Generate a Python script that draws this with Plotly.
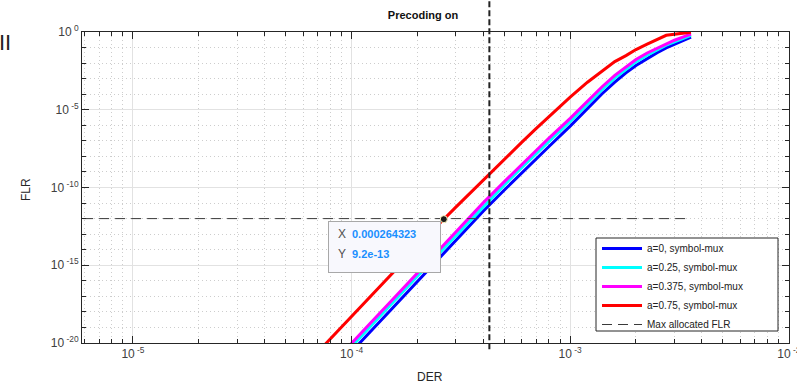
import numpy as np
import plotly.graph_objects as go

# ---------------- data ----------------
der = [0.6e-4, 0.8e-4, 1.0e-4, 1.2e-4, 1.5e-4, 2.0e-4, 2.5e-4, 3.0e-4, 4.0e-4,
       5.0e-4, 6.0e-4, 7.0e-4, 8.0e-4, 1.0e-3, 1.2e-3, 1.4e-3, 1.6e-3, 1.8e-3,
       2.0e-3, 2.25e-3, 2.5e-3, 2.75e-3, 3.0e-3, 3.3e-3, 3.57e-3]

# log10(FLR) for each series
log_flr_a0 = [-23.9, -22.0, -20.56, -19.37, -17.92, -16.04, -14.6, -13.4, -11.53,
              -10.16, -9.06, -8.14, -7.36, -6.05, -4.9, -3.97, -3.22, -2.62,
              -2.15, -1.7, -1.33, -1.02, -0.78, -0.53, -0.33]
log_flr_a025 = [-23.57, -21.67, -20.23, -19.04, -17.59, -15.71, -14.27, -13.07, -11.2,
                -9.83, -8.73, -7.81, -7.03, -5.75, -4.61, -3.70, -2.96, -2.38,
                -1.92, -1.49, -1.15, -0.85, -0.63, -0.40, -0.21]
log_flr_a0375 = [-23.36, -21.46, -20.02, -18.83, -17.38, -15.50, -14.06, -12.86, -10.99,
                 -9.62, -8.52, -7.60, -6.82, -5.55, -4.42, -3.52, -2.79, -2.22,
                 -1.77, -1.35, -1.03, -0.74, -0.53, -0.31, -0.13]
log_flr_a075 = [-21.59, -19.73, -18.29, -17.11, -15.66, -13.80, -12.38, -11.26, -9.51,
                -8.17, -7.10, -6.20, -5.43, -4.19, -3.23, -2.49, -1.90, -1.52,
                -1.13, -0.78, -0.48, -0.21, -0.14, -0.06, -0.01]

series_names = ["a=0, symbol-mux", "a=0.25, symbol-mux",
                "a=0.375, symbol-mux", "a=0.75, symbol-mux"]
series_colors = ["#0000ff", "#00ffff", "#ff00ff", "#ff0000"]

max_flr = 1e-12
max_flr_der = [5e-6, 3.57e-3]
max_flr_name = "Max allocated FLR"
der_limit = 4.27e-4

tip_x = 0.000264323
tip_y = 9.2e-13
tip_x_text = "0.000264323"
tip_y_text = "9.2e-13"

x_major = [1e-5, 1e-4, 1e-3, 1e-2]
x_major_text = ["10<sup> -5</sup>", "10<sup> -4</sup>", "10<sup> -3</sup>", "10<sup> -2</sup>"]
y_major = [1e-20, 1e-15, 1e-10, 1e-5, 1e0]
y_major_text = ["10<sup> -20</sup>", "10<sup> -15</sup>", "10<sup> -10</sup>",
                "10<sup> -5</sup>", "10<sup> 0</sup>"]

# ---------------- figure ----------------
W, H = 797, 386
ml, mr, mt, mb = 82, 8, 32, 43
pw, ph = W - ml - mr, H - mt - mb

font_fam = "Liberation Sans, Arial, Helvetica, sans-serif"
axcol = "#262626"

fig = go.Figure()

for logs, name, col in zip([log_flr_a0, log_flr_a025, log_flr_a0375, log_flr_a075],
                           series_names, series_colors):
    fig.add_trace(go.Scatter(x=der, y=10 ** np.array(logs), mode="lines", name=name,
                             line=dict(color=col, width=3), hoverinfo="skip"))

fig.add_trace(go.Scatter(x=max_flr_der, y=[max_flr, max_flr], mode="lines",
                         name=max_flr_name,
                         line=dict(color="#3a3a3a", width=1, dash="10px,6px"),
                         hoverinfo="skip"))

fig.add_trace(go.Scatter(x=[tip_x], y=[tip_y], mode="markers", showlegend=False,
                         marker=dict(color="#1a1a1a", size=7,
                                     line=dict(color="#fff8c0", width=1)),
                         hoverinfo="skip"))

x_minor = [m * 10.0 ** e for e in range(-6, -1) for m in range(2, 10)]
y_minor = [10.0 ** e for e in range(-20, 1) if e % 5 != 0]

common = dict(type="log", tickmode="array", automargin=False,
              ticks="inside", ticklen=7, tickwidth=1, tickcolor=axcol,
              showline=True, linecolor=axcol, linewidth=1, mirror="allticks",
              showgrid=True, gridcolor="#e2e2e2", gridwidth=1,
              zeroline=False, ticklabeloverflow="allow",
              tickfont=dict(family=font_fam, size=12, color="#404040"))
minor_common = dict(tickmode="array", ticks="inside", ticklen=4, tickwidth=1,
                    tickcolor=axcol, showgrid=True, gridcolor="#cdcdcd",
                    griddash="1px,3px", gridwidth=1)

fig.update_xaxes(range=[-5.233, -1.999], tickvals=x_major, ticktext=x_major_text,
                 minor=dict(tickvals=x_minor, **minor_common), **common)
fig.update_yaxes(range=[-20, 0], tickvals=y_major, ticktext=y_major_text,
                 minor=dict(tickvals=y_minor, **minor_common), **common)

fig.add_shape(type="line", xref="x", yref="paper", x0=der_limit, x1=der_limit,
              y0=-0.02, y1=1 + mt / ph,
              line=dict(color="#222222", width=2, dash="6px,3px"))

# legend frame (wider than plotly's auto-sized legend box)
leg_l, leg_r, leg_t, leg_b = 596, 778, 238, 331
fig.add_shape(type="rect", xref="paper", yref="paper",
              x0=(leg_l - ml) / pw, x1=(leg_r - ml) / pw,
              y0=(H - mb - leg_b) / ph, y1=(H - mb - leg_t) / ph,
              fillcolor="white", line=dict(color=axcol, width=1), layer="above")

ann = [
    dict(text="DER", xref="paper", yref="paper", x=(430 - ml) / pw,
         y=(H - mb - 377) / ph, showarrow=False, xanchor="center", yanchor="middle",
         font=dict(family=font_fam, size=12, color=axcol)),
    dict(text="FLR", xref="paper", yref="paper", x=(26 - ml) / pw,
         y=(H - mb - 190) / ph, showarrow=False, textangle=-90,
         xanchor="center", yanchor="middle",
         font=dict(family=font_fam, size=12, color=axcol)),
    dict(text="II", xref="paper", yref="paper", x=(5 - ml) / pw,
         y=(H - mb - 42) / ph, showarrow=False, xanchor="center", yanchor="middle",
         font=dict(family=font_fam, size=22, color="#222222")),
    # datatip box
    dict(text=" ", xref="x", yref="y", x=np.log10(tip_x), y=np.log10(tip_y),
         showarrow=False, xanchor="right", yanchor="top", xshift=-3, yshift=-2,
         width=111, height=50, borderpad=0, bgcolor="#f8f8fd",
         bordercolor="#a8a8a8", borderwidth=1,
         font=dict(family=font_fam, size=12)),
]
for lab, val, dy in [("X", tip_x_text, -15), ("Y", tip_y_text, -35)]:
    ann.append(dict(text=lab, xref="x", yref="y", x=np.log10(tip_x), y=np.log10(tip_y),
                    showarrow=False, xanchor="left", yanchor="middle",
                    xshift=-108, yshift=dy,
                    font=dict(family=font_fam, size=12, color="#505050")))
    ann.append(dict(text="<b>%s</b>" % val, xref="x", yref="y", x=np.log10(tip_x),
                    y=np.log10(tip_y), showarrow=False, xanchor="left", yanchor="middle",
                    xshift=-94, yshift=dy,
                    font=dict(family=font_fam, size=11, color="#1a8fff")))

fig.update_layout(
    width=W, height=H,
    margin=dict(l=ml, r=mr, t=mt, b=mb, autoexpand=False),
    paper_bgcolor="white", plot_bgcolor="white",
    showlegend=True,
    legend=dict(x=(leg_l + 1 - ml) / pw, y=(H - mb - 234) / ph,
                xanchor="left", yanchor="top",
                bgcolor="rgba(0,0,0,0)", borderwidth=0,
                font=dict(family=font_fam, size=10, color="#222222"),
                tracegroupgap=0, itemwidth=40),
    title=dict(text="<b>Precoding on</b>", x=423 / W, xref="container", xanchor="center",
               y=1 - 15 / H, yanchor="middle",
               font=dict(family=font_fam, size=11, color="#111111")),
    annotations=ann,
)

fig.write_html("out.html")
